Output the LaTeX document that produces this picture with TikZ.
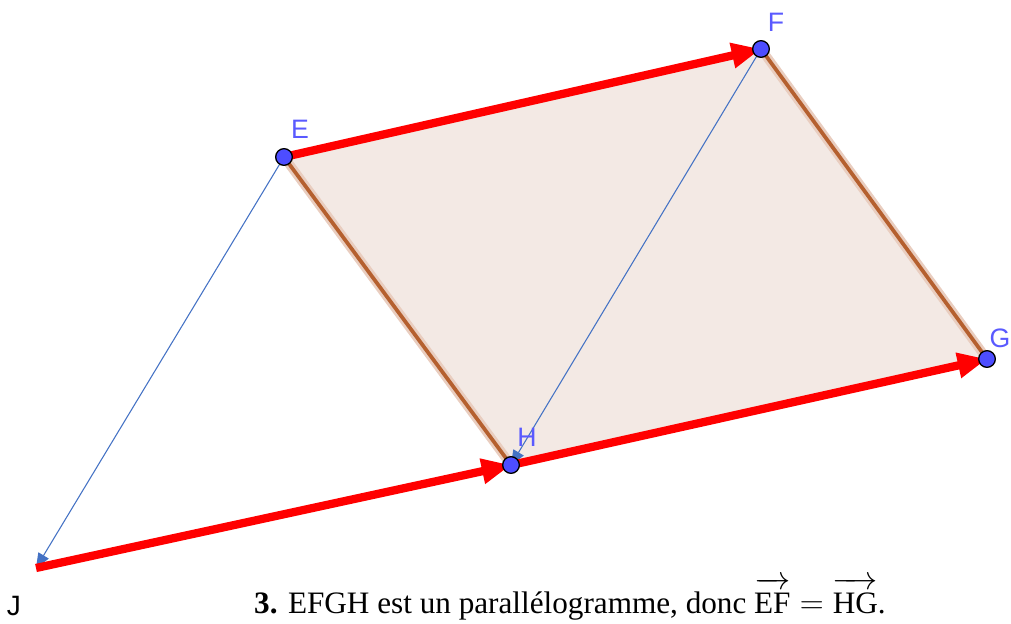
\documentclass[tikz,border=0pt]{standalone}
\usepackage{fontspec}
\setmainfont{Liberation Serif}
\newfontfamily\lblfont{Liberation Sans}
\usetikzlibrary{arrows.meta}
\definecolor{pgfill}{HTML}{F3E9E4}
\definecolor{pgedge}{HTML}{B5602F}
\definecolor{pghalo}{HTML}{E9CDBF}
\definecolor{vecred}{HTML}{FF0000}
\definecolor{vecblue}{HTML}{4472C4}
\definecolor{ptblue}{HTML}{4D4DFF}
\definecolor{lblblue}{HTML}{5A5AFF}
\tikzset{
  every picture/.style={line join=round},
  side/.style={draw=pgedge, line width=2.8pt},
  halo/.style={draw=pghalo, line width=7pt},
  redvec/.style={-{Triangle[length=22pt, width=18pt]}, draw=vecred, line width=6.2pt},
  bluevec/.style={-{Triangle[length=11pt, width=9pt]}, draw=vecblue, line width=0.8pt},
  dot/.style={circle, draw=black, fill=ptblue, line width=1pt, minimum size=12.5pt, inner sep=0pt},
  lbl/.style={font=\lblfont\fontsize{20}{23}\selectfont, text=lblblue, inner sep=0pt},
}

\begin{document}
\begin{tikzpicture}[x=0.75pt, y=-0.75pt]
\useasboundingbox (0,0) rectangle (1011,624);

% ---- Points (pixel grid, y downwards)
\coordinate (E) at (284,157);
\coordinate (F) at (761,49);
\coordinate (G) at (987,359);
\coordinate (H) at (511,465);
\coordinate (J) at (36,568);

% ---- Parallelogram EFGH
\fill[pgfill] (E) -- (F) -- (G) -- (H) -- cycle;
\draw[halo] (E) -- (H);
\draw[halo] (F) -- (G);
\draw[side] (E) -- (H);
\draw[side] (F) -- (G);

% ---- Vectors
\draw[bluevec] (F) -- (H);
\draw[bluevec] (E) -- (J);
\draw[redvec] (E) -- (F);
\draw[redvec] (H) -- (G);
\draw[redvec] (J) -- (H);

% ---- Point markers and names
\foreach \p in {E,F,G,H}
  \node[dot] (dot\p) at (\p) {};
\node[lbl] (lblE) at (300,129) {E};
\node[lbl] (lblF) at (776,22) {F};
\node[lbl] (lblG) at (1000,338) {G};
\node[lbl] (lblH) at (527,437) {H};
\node[lbl, text=black, font=\lblfont\fontsize{21}{24}\selectfont] (lblJ) at (14,606) {J};

% ---- Caption
\node[font=\fontsize{23.4}{27}\selectfont, anchor=base] (caption) at (570,613)
  {\textbf{3.} EFGH est un parallélogramme, donc
   $\overrightarrow{\mathstrut\textrm{EF}} = \overrightarrow{\mathstrut\textrm{HG}}$.};

\end{tikzpicture}
\end{document}
